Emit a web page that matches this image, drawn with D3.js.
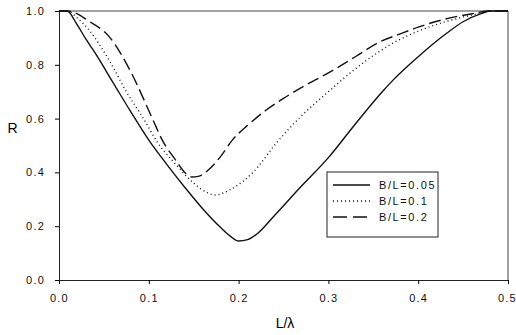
<!DOCTYPE html>
<html lang="en">
<head>
  <meta charset="UTF-8" />
  <title>R vs L/lambda</title>
  <script src="https://d3js.org/d3.v7.min.js"></script>
  <style>
    body { margin: 0; background: #fff; font-family: Arial, 'Liberation Sans', sans-serif; }
    svg { display: block; }
    .tick text { font-size: 11px; letter-spacing: 1.2px; fill: #111; }
    .curve { fill: none; stroke: #111; stroke-width: 1.4px; }
  </style>
</head>
<body>
<svg width="516" height="335"></svg>
<script>
  // values
  const seriesNames = ["B/L=0.05", "B/L=0.1", "B/L=0.2"];
  const dashes = [null, "1,3", "12,5"];

  const solidX = [0, 0.009, 0.02, 0.03, 0.04, 0.06, 0.08, 0.10, 0.12, 0.14, 0.16, 0.18, 0.19, 0.20, 0.21, 0.22, 0.24, 0.268, 0.30, 0.33, 0.36, 0.372, 0.40, 0.432, 0.45, 0.47, 0.48, 0.5];
  const solidR = [1.0, 1.0, 0.95, 0.895, 0.845, 0.735, 0.625, 0.52, 0.43, 0.345, 0.265, 0.195, 0.165, 0.145, 0.15, 0.17, 0.24, 0.342, 0.455, 0.58, 0.70, 0.743, 0.83, 0.918, 0.96, 0.99, 1.0, 1.0];

  const dotX = [0, 0.009, 0.02, 0.032, 0.057, 0.075, 0.094, 0.11, 0.13, 0.15, 0.165, 0.174, 0.19, 0.216, 0.243, 0.27, 0.30, 0.33, 0.357, 0.38, 0.40, 0.43, 0.46, 0.48, 0.5];
  const dotR = [1.0, 1.0, 0.975, 0.935, 0.81, 0.70, 0.60, 0.51, 0.43, 0.36, 0.325, 0.316, 0.335, 0.40, 0.513, 0.61, 0.70, 0.785, 0.85, 0.895, 0.925, 0.96, 0.985, 1.0, 1.0];

  const dashX = [0, 0.009, 0.02, 0.031, 0.057, 0.079, 0.104, 0.115, 0.13, 0.14, 0.148, 0.155, 0.165, 0.179, 0.193, 0.21, 0.23, 0.25, 0.275, 0.30, 0.33, 0.357, 0.38, 0.40, 0.43, 0.46, 0.48, 0.5];
  const dashR = [1.0, 1.0, 0.99, 0.967, 0.90, 0.78, 0.60, 0.52, 0.445, 0.40, 0.383, 0.385, 0.405, 0.455, 0.52, 0.575, 0.63, 0.675, 0.725, 0.77, 0.83, 0.885, 0.915, 0.94, 0.97, 0.99, 1.0, 1.0];

  const xTicks = [0, 0.1, 0.2, 0.3, 0.4, 0.5];
  const yTicks = [0, 0.2, 0.4, 0.6, 0.8, 1.0];

  const series = [
    { name: seriesNames[0], x: solidX, y: solidR, dash: dashes[0] },
    { name: seriesNames[1], x: dotX, y: dotR, dash: dashes[1] },
    { name: seriesNames[2], x: dashX, y: dashR, dash: dashes[2] }
  ];

  const svg = d3.select("svg");
  const plotL = 59, plotR = 508, plotT = 11, plotB = 280;

  const x = d3.scaleLinear().domain([0, 0.5]).range([plotL, plotR]);
  const y = d3.scaleLinear().domain([0, 1]).range([plotB, plotT]);

  // frame (top + right)
  svg.append("path")
    .attr("d", `M${plotL},${plotT}H${plotR}V${plotB}`)
    .attr("fill", "none")
    .attr("stroke", "#444")
    .attr("stroke-width", 1);

  svg.append("g")
    .attr("transform", `translate(0,${plotB})`)
    .call(d3.axisBottom(x).tickValues(xTicks).tickFormat(d3.format(".1f")).tickSize(4).tickPadding(10))
    .call(g => g.select(".domain").attr("stroke", "#222"))
    .call(g => g.selectAll(".tick text").filter(d => d === 0.5).attr("dx", -1).attr("letter-spacing", "0.6px"));

  svg.append("g")
    .attr("transform", `translate(${plotL},0)`)
    .call(d3.axisLeft(y).tickValues(yTicks).tickFormat(d3.format(".1f")).tickSize(4).tickPadding(10))
    .call(g => g.select(".domain").attr("stroke", "#222"));

  const line = d3.line()
    .x(d => x(d[0]))
    .y(d => y(d[1]))
    .curve(d3.curveMonotoneX);

  svg.append("g")
    .selectAll("path")
    .data(series)
    .join("path")
    .attr("class", "curve")
    .attr("stroke-dasharray", d => d.dash)
    .attr("d", d => line(d.x.map((v, i) => [v, d.y[i]])));

  // axis titles
  svg.append("text")
    .attr("x", 12.5).attr("y", 133)
    .attr("text-anchor", "middle")
    .attr("font-size", 14)
    .text("R");

  svg.append("text")
    .attr("x", 285).attr("y", 328)
    .attr("text-anchor", "middle")
    .attr("font-size", 14)
    .text("L/λ");

  // legend
  const lg = svg.append("g").attr("transform", "translate(327,172)");
  lg.append("rect")
    .attr("width", 111).attr("height", 65)
    .attr("fill", "#fff")
    .attr("stroke", "#222")
    .attr("stroke-width", 1);

  const rows = lg.selectAll("g.row")
    .data(series)
    .join("g")
    .attr("class", "row")
    .attr("transform", (d, i) => `translate(0,${13 + i * 16})`);

  rows.append("line")
    .attr("x1", 6).attr("x2", 43)
    .attr("stroke", "#111")
    .attr("stroke-width", 1.4)
    .attr("stroke-dasharray", d => d.dash === "12,5" ? "14,6" : d.dash);

  rows.append("text")
    .attr("x", 52).attr("y", 4)
    .attr("font-size", 11)
    .attr("letter-spacing", "1.6px")
    .attr("fill", "#111")
    .text(d => d.name);
</script>
</body>
</html>
